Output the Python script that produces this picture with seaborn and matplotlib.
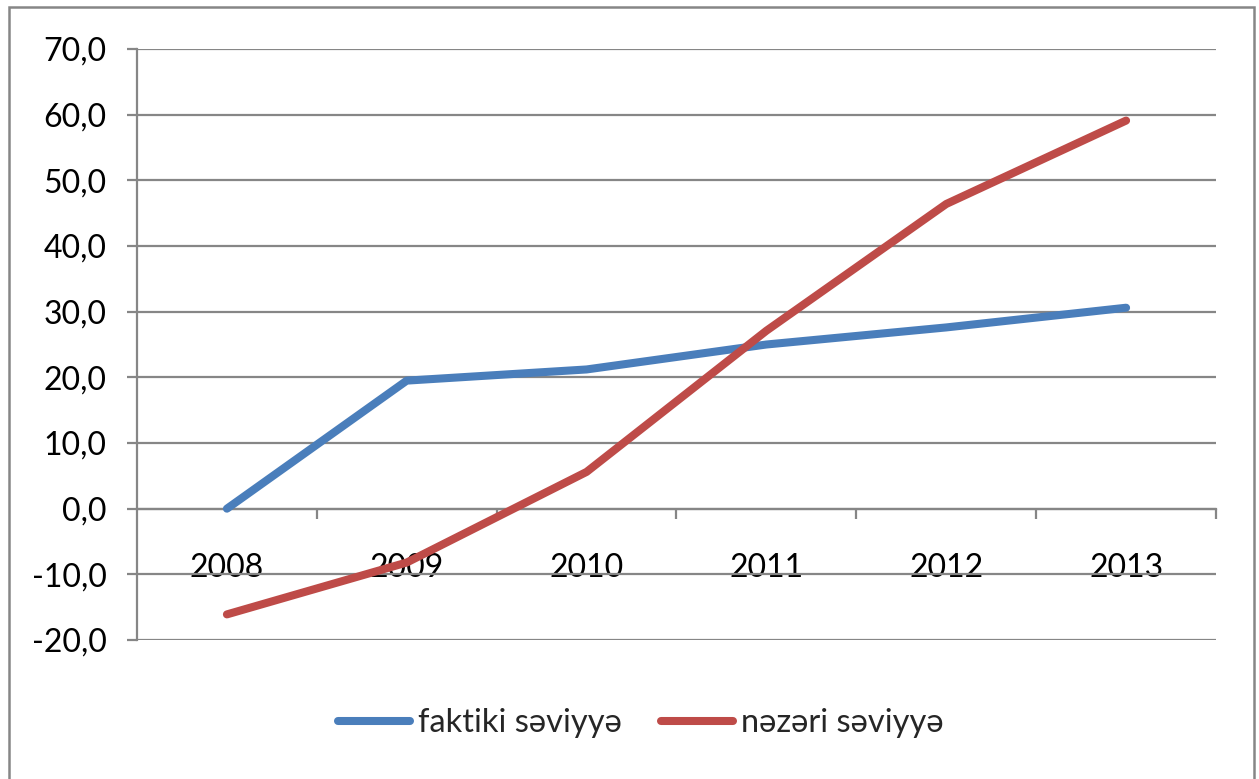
import matplotlib
matplotlib.use("Agg")
import matplotlib.pyplot as plt
from matplotlib.patches import Rectangle
from matplotlib.ticker import FixedLocator, FuncFormatter
from matplotlib.lines import Line2D
import seaborn as sns
import pandas as pd

years = ["2008", "2009", "2010", "2011", "2012", "2013"]
faktiki = [0.0, 19.5, 21.2, 25.0, 27.6, 30.6]
nazari = [-16.1, -8.2, 5.6, 27.1, 46.4, 59.1]
series_names = ["faktiki səviyyə", "nəzəri səviyyə"]
yticks = [-20, -10, 0, 10, 20, 30, 40, 50, 60, 70]

sns.set_theme(style="white")
plt.rcParams["font.family"] = ["Lato", "DejaVu Sans"]

df = pd.DataFrame({
    "idx": list(range(len(years))) * 2,
    "value": faktiki + nazari,
    "series": [series_names[0]] * len(years) + [series_names[1]] * len(years),
})

fig = plt.figure(figsize=(12.59, 7.79), dpi=100)
ax = fig.add_axes([137 / 1259, 1 - 640 / 779, (1216 - 137) / 1259, (640 - 49) / 779])

grid_c = "#868686"
palette = {series_names[0]: "#4A7EBB", series_names[1]: "#BE4B48"}
sns.lineplot(data=df, x="idx", y="value", hue="series", palette=palette,
             linewidth=5.8, ax=ax, legend=False)
for l in ax.lines:
    l.set_solid_capstyle("round")
    l.set_zorder(5)

ax.set_xlim(-0.5, len(years) - 0.5)
ax.set_ylim(-20, 70)
ax.set_yticks(yticks)
ax.yaxis.set_major_formatter(FuncFormatter(lambda v, p: f"{v:.1f}".replace(".", ",")))
ax.yaxis.grid(True, color=grid_c, linewidth=1.6)
ax.set_axisbelow(True)

for s in ["top", "right"]:
    ax.spines[s].set_visible(False)
ax.spines["left"].set_color(grid_c)
ax.spines["left"].set_linewidth(1.6)
ax.spines["bottom"].set_position(("data", 0))
ax.spines["bottom"].set_color(grid_c)
ax.spines["bottom"].set_linewidth(1.6)

ax.set_xticks(range(len(years)))
ax.set_xticklabels(years)
ax.xaxis.set_minor_locator(FixedLocator([i + 0.5 for i in range(len(years))]))
ax.tick_params(axis="x", which="major", length=0, pad=32, labelsize=23, colors="black")
ax.tick_params(axis="x", which="minor", bottom=True, length=7, width=1.6, color=grid_c, direction="out")
ax.tick_params(axis="y", which="major", left=True, length=7, width=1.6, color=grid_c,
               direction="out", pad=15, labelsize=23, labelcolor="black")
ax.set_xlabel("")
ax.set_ylabel("")

handles = [Line2D([0], [0], color=palette[n], linewidth=5.8, solid_capstyle="round") for n in series_names]
fig.legend(handles, series_names, loc="center", bbox_to_anchor=(641 / 1259, 1 - 723 / 779),
           ncol=2, frameon=False, fontsize=23.5, handlelength=2.2, handletextpad=0.25,
           columnspacing=1.2)

fig.add_artist(Rectangle((9 / 1259, -0.02), (1254 - 9) / 1259, 1 - 7 / 779 + 0.02,
                         transform=fig.transFigure, fill=False, edgecolor=grid_c, linewidth=1.8))

fig.savefig("out.png", dpi=100)
